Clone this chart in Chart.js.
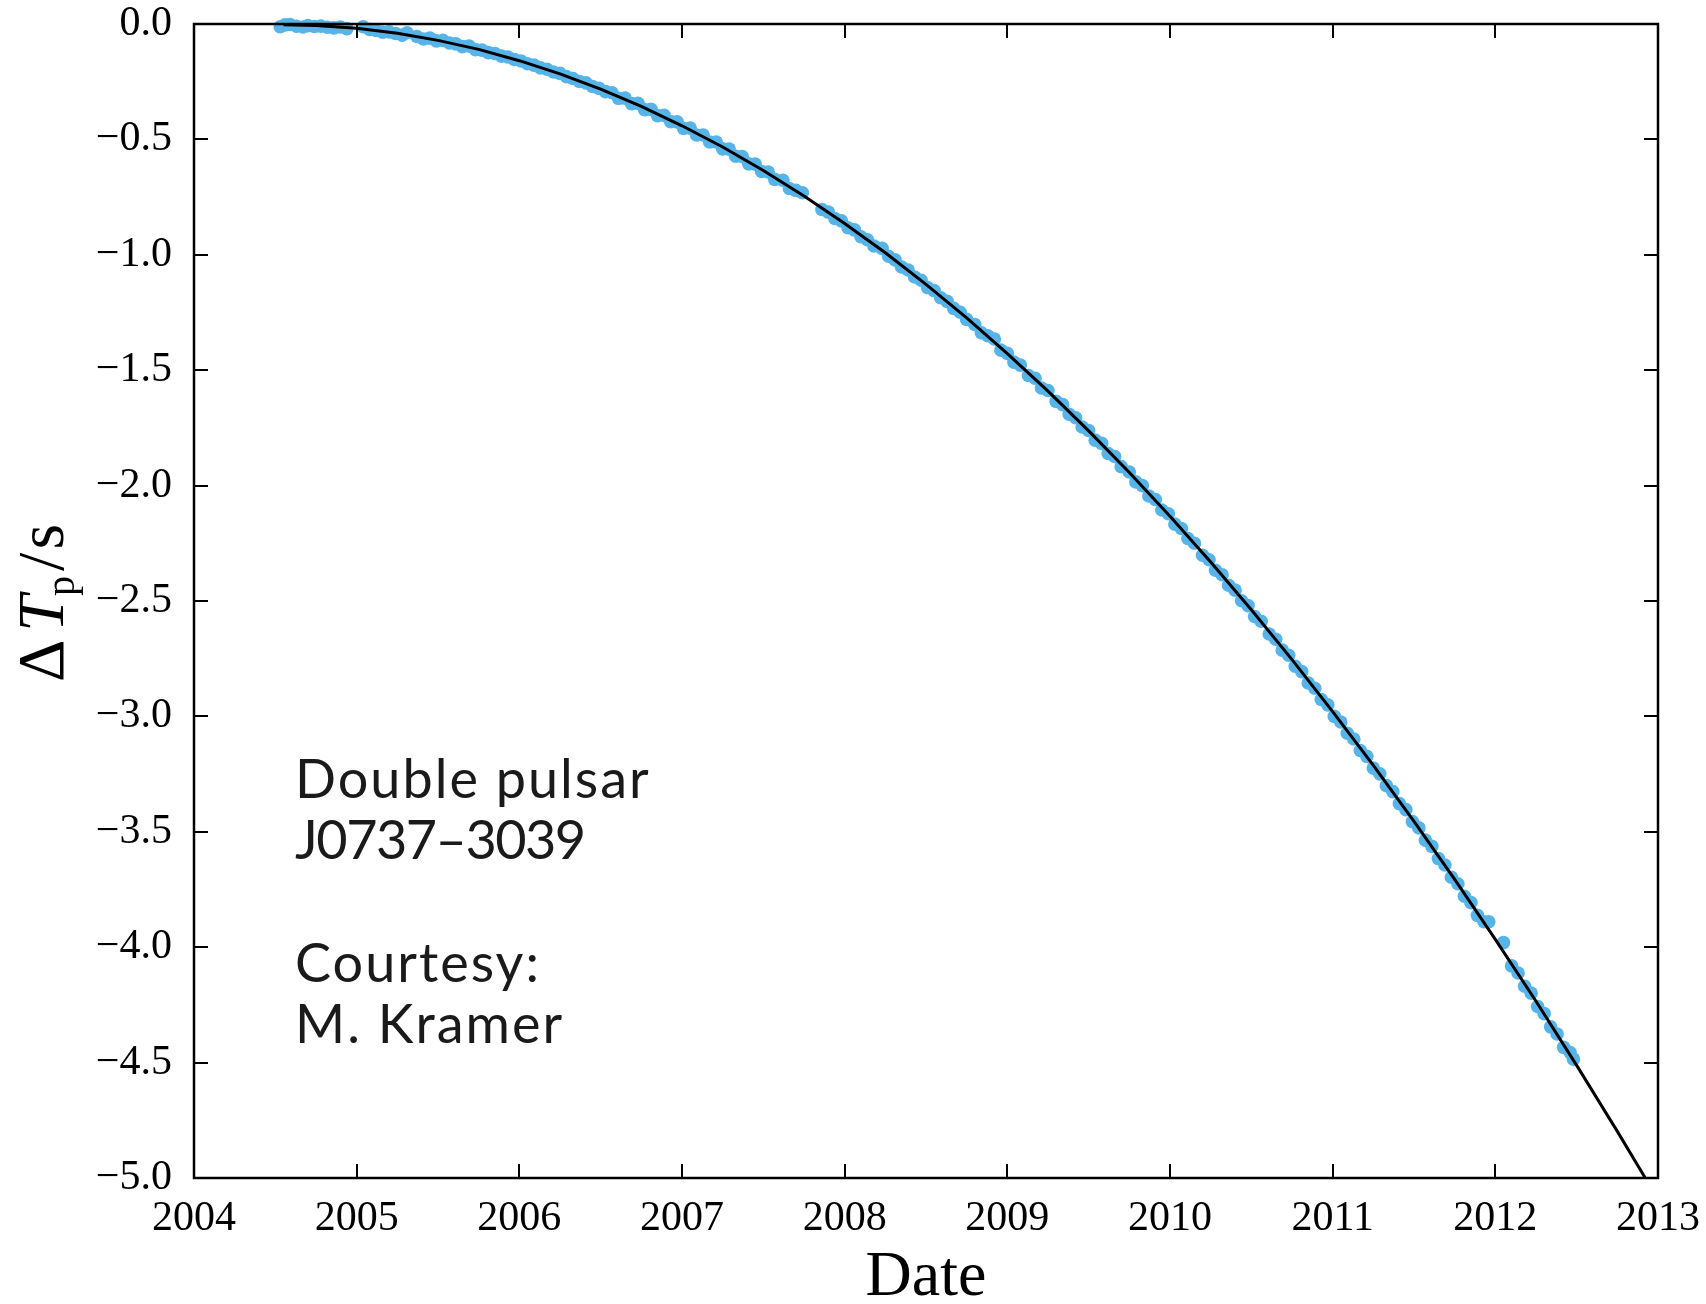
<!DOCTYPE html>
<html>
<head>
<meta charset="utf-8">
<script src="https://cdn.jsdelivr.net/npm/chart.js@4.4.1/dist/chart.umd.min.js"></script>
<style>
  html, body { margin: 0; padding: 0; background: #ffffff; }
  #wrap { width: 1706px; height: 1304px; }
</style>
</head>
<body>
<div id="wrap"><canvas id="c" width="1706" height="1304"></canvas></div>
<script>
// ---- Data ----
const xTicks = [2004, 2005, 2006, 2007, 2008, 2009, 2010, 2011, 2012, 2013];
const xTickLabels = ['2004', '2005', '2006', '2007', '2008', '2009', '2010', '2011', '2012', '2013'];
const yTicks = [0, -0.5, -1, -1.5, -2, -2.5, -3, -3.5, -4, -4.5, -5];
const yTickLabels = ['0.0', '\u22120.5', '\u22121.0', '\u22121.5', '\u22122.0', '\u22122.5', '\u22123.0', '\u22123.5', '\u22124.0', '\u22124.5', '\u22125.0'];

// Observed cumulative shift of periastron time (blue dots)
const obsYears = [
  2004.53, 2004.56, 2004.59, 2004.63, 2004.67, 2004.70, 2004.74, 2004.78, 2004.82, 2004.86, 2004.90, 2004.94,
  2005.04, 2005.08, 2005.12, 2005.16, 2005.20, 2005.24, 2005.28, 2005.31,
  2005.37, 2005.41, 2005.45, 2005.49, 2005.53, 2005.57, 2005.61, 2005.65, 2005.69, 2005.73, 2005.77, 2005.81, 2005.85, 2005.89, 2005.93, 2005.97,
  2006.01, 2006.05, 2006.09, 2006.13, 2006.17, 2006.21, 2006.25, 2006.29, 2006.33, 2006.37, 2006.41, 2006.45, 2006.49, 2006.53, 2006.57, 2006.61, 2006.65, 2006.69, 2006.73, 2006.77, 2006.81, 2006.85, 2006.89, 2006.93, 2006.97,
  2007.01, 2007.05, 2007.09, 2007.13, 2007.17, 2007.21, 2007.25, 2007.29, 2007.33, 2007.37, 2007.41, 2007.45, 2007.49, 2007.53, 2007.57, 2007.62, 2007.66, 2007.70, 2007.74, 2007.86, 2007.90, 2007.94, 2007.98,
  2008.02, 2008.06, 2008.10, 2008.14, 2008.18, 2008.23, 2008.27, 2008.31, 2008.35, 2008.39, 2008.43, 2008.47, 2008.51, 2008.55, 2008.59, 2008.63, 2008.67, 2008.71, 2008.75, 2008.80, 2008.84, 2008.88, 2008.92, 2008.96, 2009.00,
  2009.04, 2009.08, 2009.13, 2009.17, 2009.21, 2009.25, 2009.30, 2009.34, 2009.38, 2009.42, 2009.46, 2009.50, 2009.54, 2009.58, 2009.62, 2009.66, 2009.70, 2009.75, 2009.79, 2009.83, 2009.87, 2009.91, 2009.95, 2009.99,
  2010.03, 2010.07, 2010.11, 2010.15, 2010.20, 2010.24, 2010.28, 2010.32, 2010.36, 2010.40, 2010.44, 2010.48, 2010.52, 2010.56, 2010.61, 2010.65, 2010.69, 2010.73, 2010.77, 2010.81, 2010.85, 2010.89, 2010.93, 2010.97,
  2011.01, 2011.05, 2011.09, 2011.13, 2011.17, 2011.21, 2011.25, 2011.29, 2011.33, 2011.37, 2011.41, 2011.45, 2011.49, 2011.53, 2011.57, 2011.61, 2011.65, 2011.69, 2011.73, 2011.77, 2011.81, 2011.85, 2011.89, 2011.93, 2011.96,
  2012.05, 2012.10, 2012.14, 2012.18, 2012.22, 2012.26, 2012.30, 2012.34, 2012.38, 2012.42, 2012.46, 2012.48
];
const obsDelay = [
  -0.012, -0.004, -0.002, -0.010, -0.013, -0.007, -0.011, -0.009, -0.014, -0.017, -0.013, -0.020,
  -0.012, -0.024, -0.028, -0.036, -0.034, -0.041, -0.048, -0.038,
  -0.054, -0.065, -0.061, -0.073, -0.071, -0.082, -0.086, -0.098, -0.095, -0.111, -0.113, -0.124, -0.128, -0.139, -0.143, -0.154,
  -0.160, -0.172, -0.178, -0.190, -0.196, -0.208, -0.214, -0.228, -0.236, -0.249, -0.255, -0.271, -0.279, -0.293, -0.298, -0.322, -0.321, -0.345, -0.344, -0.371, -0.370, -0.397, -0.396, -0.423, -0.424,
  -0.452, -0.451, -0.481, -0.481, -0.511, -0.511, -0.541, -0.542, -0.573, -0.574, -0.606, -0.607, -0.639, -0.641, -0.673, -0.677, -0.713, -0.721, -0.731, -0.804, -0.815, -0.843, -0.853,
  -0.883, -0.892, -0.922, -0.935, -0.962, -0.972, -1.006, -1.022, -1.053, -1.066, -1.096, -1.110, -1.142, -1.155, -1.186, -1.202, -1.232, -1.249, -1.280, -1.302, -1.338, -1.351, -1.365, -1.413, -1.427,
  -1.465, -1.478, -1.523, -1.535, -1.577, -1.588, -1.635, -1.649, -1.691, -1.706, -1.746, -1.761, -1.803, -1.817, -1.861, -1.874, -1.918, -1.941, -1.984, -2.000, -2.045, -2.060, -2.106, -2.122,
  -2.167, -2.186, -2.229, -2.250, -2.302, -2.321, -2.367, -2.386, -2.432, -2.453, -2.499, -2.520, -2.567, -2.588, -2.643, -2.666, -2.713, -2.735, -2.783, -2.806, -2.855, -2.878, -2.927, -2.950,
  -3.000, -3.024, -3.073, -3.098, -3.148, -3.173, -3.224, -3.249, -3.300, -3.326, -3.378, -3.404, -3.456, -3.483, -3.536, -3.563, -3.616, -3.644, -3.697, -3.725, -3.779, -3.807, -3.862, -3.890, -3.890,
  -3.980, -4.081, -4.112, -4.169, -4.199, -4.257, -4.288, -4.345, -4.376, -4.434, -4.456, -4.485
];

// GR prediction curve (black line)
const fitYears = [2004.55, 2004.75, 2005.0, 2005.25, 2005.5, 2005.75, 2006.0, 2006.25, 2006.5, 2006.75,
  2007.0, 2007.25, 2007.5, 2007.75, 2008.0, 2008.25, 2008.5, 2008.75, 2009.0, 2009.25, 2009.5, 2009.75,
  2010.0, 2010.25, 2010.5, 2010.75, 2011.0, 2011.25, 2011.5, 2011.75, 2012.0, 2012.25, 2012.5, 2012.75, 2012.92];
const fitDelay = [-0.003, -0.006, -0.018, -0.040, -0.071, -0.110, -0.159, -0.216, -0.282, -0.357,
  -0.441, -0.533, -0.635, -0.745, -0.864, -0.991, -1.128, -1.273, -1.428, -1.591, -1.763, -1.943,
  -2.133, -2.331, -2.538, -2.754, -2.979, -3.212, -3.455, -3.706, -3.966, -4.234, -4.512, -4.798, -4.998];

const annotationLines = ['Double pulsar', 'J0737\u20133039', '', 'Courtesy:', 'M. Kramer'];
const xTitle = 'Date';

// ---- Styling ----
const TICK_FONT = 'Liberation Serif';
const DOT_COLOR = '#56B4E9';
const ANNOT_SPACING = ['2px', '-1.5px', '0px', '2px', '2px'];

function noOverflowPadding(scale) {
  scale.paddingLeft = 0; scale.paddingRight = 0; scale.paddingTop = 0; scale.paddingBottom = 0;
}

const framePlugin = {
  id: 'frame',
  afterDatasetsDraw(chart) {
    const { ctx, chartArea: a, scales: { x, y } } = chart;
    ctx.save();
    ctx.strokeStyle = '#000';
    ctx.lineWidth = 2.5;
    ctx.strokeRect(a.left, a.top, a.right - a.left, a.bottom - a.top);
    ctx.lineWidth = 2;
    const L = 14;
    ctx.beginPath();
    xTicks.forEach(v => {
      const px = Math.round(x.getPixelForValue(v));
      ctx.moveTo(px, a.bottom); ctx.lineTo(px, a.bottom - L);
      ctx.moveTo(px, a.top); ctx.lineTo(px, a.top + L);
    });
    yTicks.forEach(v => {
      const py = Math.round(y.getPixelForValue(v));
      ctx.moveTo(a.left, py); ctx.lineTo(a.left + L, py);
      ctx.moveTo(a.right, py); ctx.lineTo(a.right - L, py);
    });
    ctx.stroke();
    ctx.restore();
  },
  afterDraw(chart) {
    const { ctx, chartArea: a } = chart;
    // Y axis title: ΔT_p / s (rotated)
    ctx.save();
    ctx.translate(63, (a.top + a.bottom) / 2 + 2);
    ctx.rotate(-Math.PI / 2);
    ctx.fillStyle = '#000';
    ctx.textBaseline = 'alphabetic';
    const parts = [
      { t: '\u0394', f: '66px "' + TICK_FONT + '"', dy: 0, gap: 8 },
      { t: 'T', f: 'italic 66px "' + TICK_FONT + '"', dy: 0, gap: -1 },
      { t: 'p', f: '40px "' + TICK_FONT + '"', dy: 11, gap: 5 },
      { t: '/', f: '66px "' + TICK_FONT + '"', dy: 0, gap: 3 },
      { t: 's', f: '66px "' + TICK_FONT + '"', dy: 0, gap: 0 }
    ];
    let total = 0;
    parts.forEach(p => { ctx.font = p.f; p.w = ctx.measureText(p.t).width; total += p.w + p.gap; });
    let cx = -total / 2;
    parts.forEach(p => { ctx.font = p.f; ctx.fillText(p.t, cx, p.dy); cx += p.w + p.gap; });
    ctx.restore();

    // Annotation text
    annotationLines.forEach((line, i) => {
      if (!line) return;
      ctx.save();
      ctx.fillStyle = '#1a1a1a';
      ctx.font = '54px Lato';
      try { ctx.letterSpacing = ANNOT_SPACING[i]; } catch (e) {}
      ctx.textBaseline = 'alphabetic';
      ctx.textAlign = 'left';
      ctx.fillText(line, a.left + 101, a.top + 774 + i * 61.3);
      ctx.restore();
    });
  }
};

new Chart(document.getElementById('c'), {
  type: 'scatter',
  data: {
    datasets: [
      {
        type: 'line',
        label: 'GR prediction',
        data: fitYears.map((t, i) => ({ x: t, y: fitDelay[i] })),
        borderColor: '#000000',
        borderWidth: 3,
        pointRadius: 0,
        fill: false,
        tension: 0,
        order: 0
      },
      {
        type: 'scatter',
        label: 'Observed',
        data: obsYears.map((t, i) => ({ x: t, y: obsDelay[i] })),
        backgroundColor: DOT_COLOR,
        borderWidth: 0,
        pointRadius: 6.8,
        clip: false,
        order: 1
      }
    ]
  },
  options: {
    responsive: false,
    animation: false,
    devicePixelRatio: 1,
    layout: { padding: { top: 24, right: 48, left: 0, bottom: 0 } },
    plugins: { legend: { display: false }, tooltip: { enabled: false } },
    scales: {
      x: {
        type: 'linear',
        min: 2004, max: 2013,
        afterBuildTicks(scale) { scale.ticks = xTicks.map(v => ({ value: v })); },
        afterFit(scale) { scale.height = 126; noOverflowPadding(scale); },
        grid: { display: false, drawTicks: false },
        border: { display: false },
        ticks: {
          autoSkip: false, maxRotation: 0, minRotation: 0,
          padding: 20,
          color: '#000',
          font: { family: TICK_FONT, size: 42, lineHeight: 1 },
          callback: (v, i) => xTickLabels[i]
        },
        title: {
          display: true, text: xTitle, color: '#000',
          font: { family: TICK_FONT, size: 64, lineHeight: 0.8 },
          padding: { top: 0, bottom: 0 }
        }
      },
      y: {
        type: 'linear',
        min: -5, max: 0,
        afterBuildTicks(scale) { scale.ticks = yTicks.map(v => ({ value: v })); },
        afterFit(scale) { scale.width = 194; noOverflowPadding(scale); },
        grid: { display: false, drawTicks: false },
        border: { display: false },
        ticks: {
          autoSkip: false,
          padding: 22,
          color: '#000',
          font: { family: TICK_FONT, size: 42, lineHeight: 1 },
          callback: (v, i) => yTickLabels[i]
        }
      }
    }
  },
  plugins: [framePlugin]
});
</script>
</body>
</html>
